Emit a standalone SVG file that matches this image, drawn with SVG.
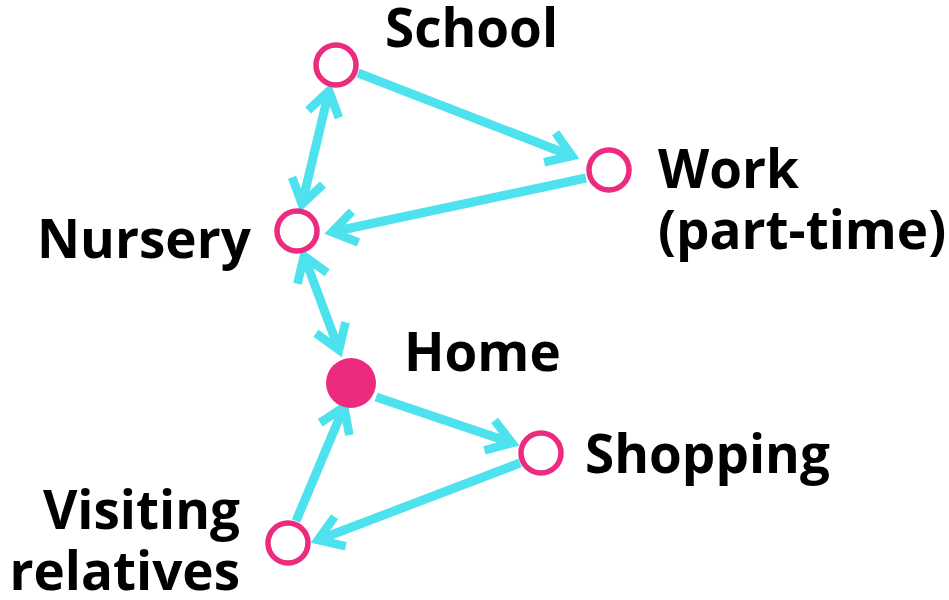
<svg xmlns="http://www.w3.org/2000/svg" width="949" height="600" viewBox="0 0 949 600">
<defs>
<marker id="ah" viewBox="0 0 10 10" refX="7" refY="5" markerWidth="4.4" markerHeight="4.4" orient="auto-start-reverse" markerUnits="strokeWidth">
<path d="M1,1 L7,5 L1,9" fill="none" stroke="#4de2ee" stroke-width="2.2" stroke-linecap="butt" stroke-linejoin="miter"/>
</marker>
<style>
.c{stroke:#4de2ee;stroke-width:9;fill:none}
.n{fill:#fff;stroke:#ec2a7e;stroke-width:5.5}
.h{fill:#ec2a7e}
.t{font-family:"Open Sans","Noto Sans",sans-serif;font-weight:bold;font-size:53px;fill:#000}
</style>
</defs>
<rect width="949" height="600" fill="#fff"/>
<g id="connectors">
<line class="c" x1="358" y1="73" x2="572" y2="156" marker-end="url(#ah)"/>
<line class="c" x1="586" y1="178" x2="332" y2="232" marker-end="url(#ah)"/>
<line class="c" x1="302" y1="204" x2="329" y2="91" marker-start="url(#ah)" marker-end="url(#ah)"/>
<line class="c" x1="304" y1="256" x2="339" y2="350" marker-start="url(#ah)" marker-end="url(#ah)"/>
<line class="c" x1="376" y1="397" x2="512" y2="443" marker-end="url(#ah)"/>
<line class="c" x1="520" y1="463" x2="318" y2="540" marker-end="url(#ah)"/>
<line class="c" x1="296" y1="521" x2="344" y2="407" marker-end="url(#ah)"/>
</g>
<g id="school"><circle class="n" cx="336" cy="65" r="20"/><text class="t" x="385" y="47">School</text></g>
<g id="work"><circle class="n" cx="609" cy="170" r="20"/><text class="t" x="658" y="188">Work</text><text class="t" x="658" y="249">(part-time)</text></g>
<g id="nursery"><circle class="n" cx="297" cy="231" r="20"/><text class="t" x="37" y="258">Nursery</text></g>
<g id="home"><circle class="h" cx="351" cy="383" r="25"/><text class="t" x="404" y="371">Home</text></g>
<g id="shopping"><circle class="n" cx="541" cy="453" r="20"/><text class="t" x="585" y="473">Shopping</text></g>
<g id="visiting"><circle class="n" cx="288" cy="543" r="20"/><text class="t" x="240" y="529" text-anchor="end">Visiting</text><text class="t" x="240" y="590" text-anchor="end">relatives</text></g>
</svg>
